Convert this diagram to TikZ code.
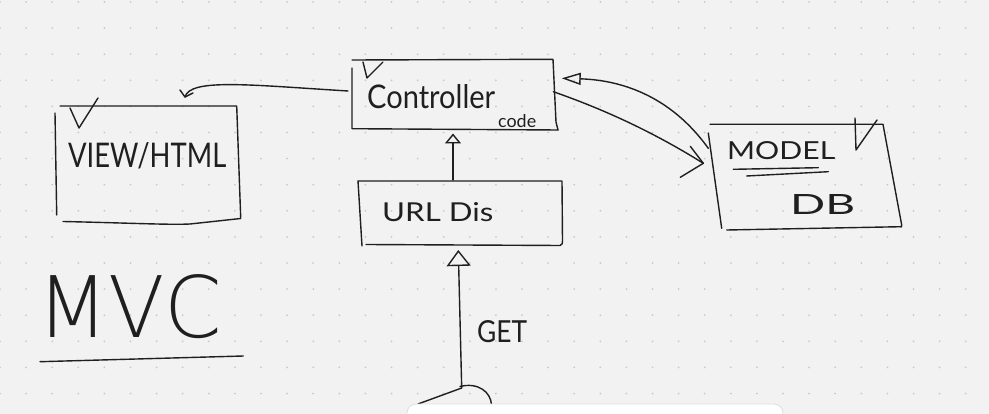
\documentclass[tikz,border=0pt]{standalone}
\usepackage{fontspec}
\usepackage{graphicx}
\setmainfont{Lato}
\newfontfamily\handL{Lato}
\IfFontExistsTF{DejaVu Sans ExtraLight}{\newfontfamily\handT{DejaVu Sans ExtraLight}}{\newfontfamily\handT{Lato}}
\usetikzlibrary{arrows.meta}
\definecolor{ink}{HTML}{1F1F1F}
\definecolor{paper}{HTML}{F2F2F2}
\definecolor{griddot}{HTML}{CACACA}
\definecolor{paneledge}{HTML}{DCDEE4}
\newcommand{\hw}[4]{\resizebox{#2pt}{#3pt}{#1#4}}
\begin{document}
\begin{tikzpicture}[x=1pt,y=-1pt,
  pen/.style={draw=ink,line width=1.4pt,line cap=round,line join=round},
  lbl/.style={inner sep=0pt,anchor=base west,text=ink},
  tipS/.style={-{Triangle[open,length=10pt,width=16pt]}},
  tipL/.style={-{Triangle[open,length=16pt,width=24pt]}},
  tipM/.style={-{Triangle[open,length=19pt,width=12pt]}}]
\useasboundingbox (0,0) rectangle (989,414);
\clip (0,0) rectangle (989,414);
\fill[paper] (0,0) rectangle (989,414);
\foreach \i in {0,...,38} \foreach \j in {0,...,15} \fill[griddot] (26.1*\i,2+26.1*\j) circle (1pt);

% ---------- text nodes ----------
\node[lbl] (viewtxt) at (68,168) {\hw{\handL}{158}{25}{VIEW/HTML}};
\node[lbl] (ctrltxt) at (367,109) {\hw{\handL}{128}{24}{Controller}};
\node[lbl] (codetxt) at (498,127.5) {\hw{\handL}{38}{13}{code}};
\node[lbl] (urltxt) at (382,222) {\hw{\handL}{111}{19}{URL Dis}};
\node[lbl] (modeltxt) at (727,160) {\hw{\handL}{108}{18}{MODEL}};
\node[lbl] (dbtxt) at (790,215) {\hw{\handL}{65}{20}{DB}};
\node[lbl] (gettxt) at (477,342) {\hw{\handL}{50}{22}{GET}};
\node[lbl] (mvctxt) at (37,338) {\hw{\handT}{185}{63}{MVC}};

% ---------- boxes (hand drawn) ----------
% View
\draw[pen] (55,113) -- (56.7,215);
\draw[pen] (60,106) -- (236.7,106) -- (240.7,217.5);
\draw[pen] (63,221.5) .. controls (130,223) and (170,225) .. (190,224) -- (240.7,218.5);
\draw[pen] (70,108) -- (79,128) -- (98,98);
% Controller
\draw[pen] (352,68) -- (352,128.7) -- (558,130);
\draw[pen] (352,60) -- (553,59.3) -- (556,122) -- (558,130);
\draw[pen] (363,62) -- (367,78) -- (383,62);
% URL Dis
\draw[pen] (358,181) -- (562,181) -- (562.5,241) .. controls (562.5,244) .. (560,245.5) -- (366,244.5);
\draw[pen] (358,181) -- (362,246);
% Model
\draw[pen] (710,124.3) -- (883,124.3) -- (901.7,225) -- (901,227);
\draw[pen] (708.3,133) -- (721.7,228.3);
\draw[pen] (726.7,230) -- (901.7,226.7);
\draw[pen] (855,118) -- (856,150) -- (877,120);
\draw[pen] (733.3,169.3) -- (818.3,167.7);
\draw[pen] (746.7,176) -- (828.3,171.7);
% MVC underline
\draw[pen] (40,361.7) -- (243.3,356);

% ---------- connector end points ----------
\coordinate (ctrlW) at (348,91);
\coordinate (viewN) at (185,97);
\coordinate (ctrlS) at (453,133.5);
\coordinate (urlN) at (453,180);
\coordinate (ctrlE) at (553.3,91.7);
\coordinate (modelW) at (703.3,163.3);
\coordinate (modelW2) at (708.3,148.3);
\coordinate (ctrlE2) at (561.7,78.3);
\coordinate (urlS) at (458.3,250);
\coordinate (client) at (461.7,388);

% ---------- connectors ----------
\draw[pen] (ctrlW) .. controls (250,85) and (190,78) .. (viewN);
\draw[pen] (viewN) ++(-5,-7) -- (viewN) -- ++(8,-4);
\draw[pen,tipS] (urlN) -- (ctrlS);
\draw[pen] (ctrlE) .. controls (600,108) and (650,130) .. (modelW);
\draw[pen] (modelW) ++(-13,-17) -- (modelW) -- ++(-23,14);
\draw[pen,tipM] (modelW2) .. controls (670,95) and (620,80) .. (ctrlE2);
\draw[pen,tipL] (client) -- (urlS);

% ---------- client figure ----------
\draw[pen] (418,404) -- (client);
\draw[pen] (460,386.5) .. controls (478,382) and (491,392) .. (491.5,405);

% ---------- bottom panel ----------
\draw[fill=white,draw=paneledge,line width=0.8pt,rounded corners=9pt] (407,404) rectangle (783,440);
\end{tikzpicture}
\end{document}
